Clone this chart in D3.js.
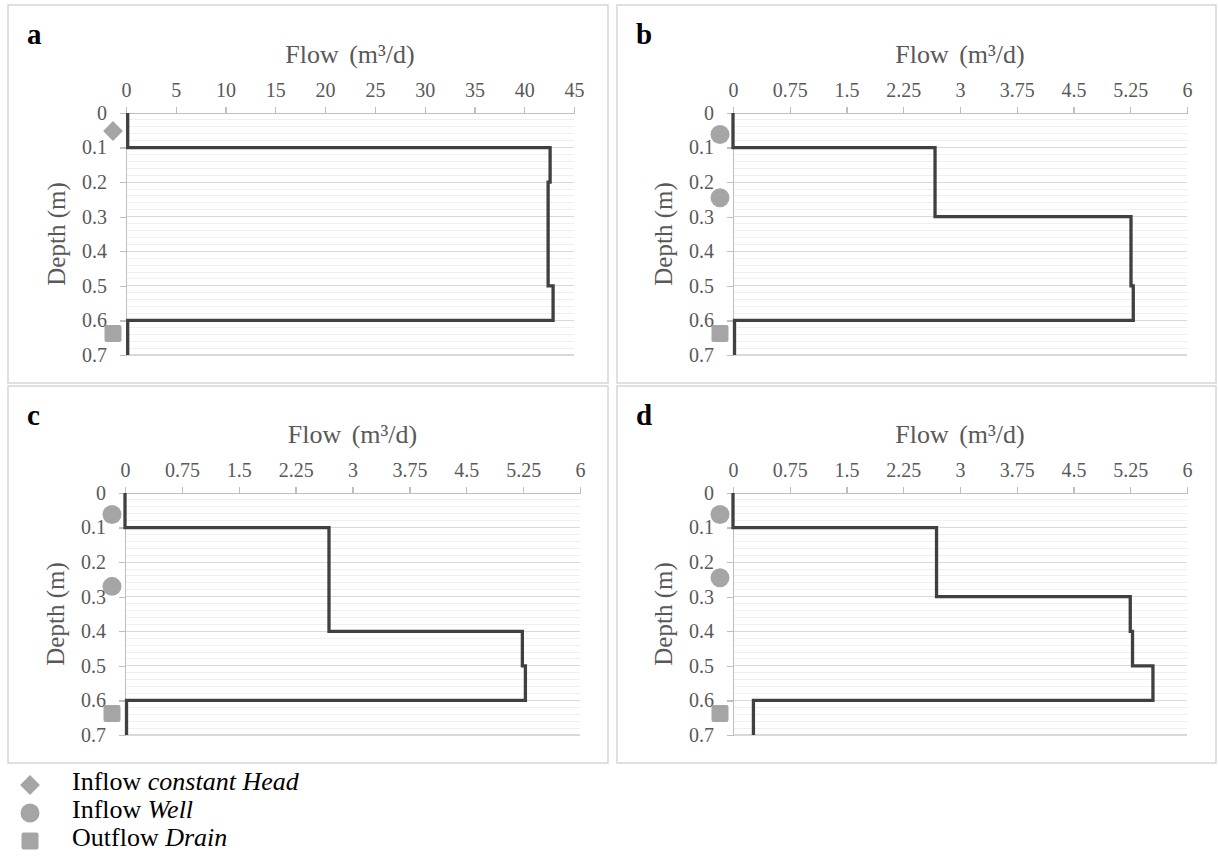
<!DOCTYPE html>
<html>
<head>
  <meta charset="utf-8">
  <title>Flow profiles</title>
  <script src="https://cdn.jsdelivr.net/npm/d3@7"></script>
  <style>
    body { margin: 0; background: #ffffff; }
    svg text { font-family: "Liberation Serif", "Times New Roman", serif; }
    .axis path, .axis line { stroke: #bfbfbf; stroke-width: 1.3; shape-rendering: crispEdges; }
    .axis text { fill: #595959; font-size: 20px; }
    .title { fill: #595959; font-size: 26px; text-anchor: middle; }
    .ytitle { font-size: 25px; }
    .panel-label { font-size: 29px; font-weight: bold; fill: #000; }
    .frame { fill: none; stroke: #d9d9d9; stroke-width: 1.6; }
    .major { stroke: #d9d9d9; stroke-width: 1.2; shape-rendering: crispEdges; }
    .minor { stroke: #efefef; stroke-width: 1; shape-rendering: crispEdges; }
    .profile { fill: none; stroke: #404040; stroke-width: 3.3; stroke-linejoin: miter; }
    .marker { fill: #a5a5a5; }
    .legend text { font-size: 26px; fill: #000; }
  </style>
</head>
<body>
<script>
  // Depth of layer boundaries (m) and axis ticks
  var depthBounds = [0, 0.1, 0.2, 0.3, 0.4, 0.5, 0.6, 0.7];
  var depthTicks = [0, 0.1, 0.2, 0.3, 0.4, 0.5, 0.6, 0.7];
  var flowTicksA = [0, 5, 10, 15, 20, 25, 30, 35, 40, 45];
  var flowTicksSmall = [0, 0.75, 1.5, 2.25, 3, 3.75, 4.5, 5.25, 6];

  // Flow (m3/d) in each layer, top to bottom
  var flowA = [0.17, 42.6, 42.4, 42.4, 42.4, 42.9, 0.17];
  var flowB = [0, 2.67, 2.67, 5.26, 5.26, 5.29, 0.02];
  var flowC = [0, 2.69, 2.69, 2.69, 5.24, 5.28, 0.02];
  var flowD = [0, 2.69, 2.69, 5.25, 5.28, 5.55, 0.27];

  // boundary conditions: type and depth (m)
  var markersA = [["diamond", 0.052], ["square", 0.638]];
  var markersB = [["circle", 0.062], ["circle", 0.245], ["square", 0.638]];
  var markersC = [["circle", 0.062], ["circle", 0.27], ["square", 0.638]];
  var markersD = [["circle", 0.062], ["circle", 0.245], ["square", 0.638]];

  var legendItems = [["diamond", "Inflow ", "constant Head"],
                     ["circle", "Inflow ", "Well"],
                     ["square", "Outflow ", "Drain"]];

  var svg = d3.select("body").append("svg")
      .attr("width", 1218)
      .attr("height", 856);

  function drawMarker(g, type, cx, cy) {
    if (type == "circle") {
      g.append("circle").attr("class", "marker")
        .attr("cx", cx).attr("cy", cy).attr("r", 9.5);
    } else if (type == "square") {
      g.append("rect").attr("class", "marker")
        .attr("x", cx - 8.5).attr("y", cy - 8.5)
        .attr("width", 17).attr("height", 17).attr("rx", 2);
    } else {
      g.append("rect").attr("class", "marker")
        .attr("x", -7).attr("y", -7).attr("width", 14).attr("height", 14)
        .attr("transform", "translate(" + cx + "," + cy + ") rotate(45)");
    }
  }

  function drawPanel(p) {
    var g = svg.append("g");

    g.append("rect").attr("class", "frame")
      .attr("x", p.box[0]).attr("y", p.box[1])
      .attr("width", p.box[2]).attr("height", p.box[3]);

    var x = d3.scaleLinear().domain([0, p.xmax]).range([p.left, p.right]);
    var y = d3.scaleLinear().domain([0, 0.7]).range([p.top, p.bottom]);

    // gridlines
    var majors = depthTicks.slice(1);
    var minors = y.ticks(35).filter(function(d) {
      return Math.abs(d * 10 - Math.round(d * 10)) > 1e-6;
    });
    g.selectAll(".minor").data(minors).enter().append("line")
      .attr("class", "minor")
      .attr("x1", p.left).attr("x2", p.right)
      .attr("y1", y).attr("y2", y);
    g.selectAll(".major").data(majors).enter().append("line")
      .attr("class", "major")
      .attr("x1", p.left).attr("x2", p.right)
      .attr("y1", y).attr("y2", y);

    // axes
    g.append("g").attr("class", "axis")
      .attr("transform", "translate(0," + p.top + ")")
      .call(d3.axisTop(x).tickValues(p.ticks).tickFormat(d3.format("")).tickSizeOuter(0).tickSize(6).tickPadding(10));
    g.append("g").attr("class", "axis")
      .attr("transform", "translate(" + p.left + ",0)")
      .call(d3.axisLeft(y).tickValues(depthTicks).tickFormat(d3.format("")).tickSizeOuter(0).tickSize(6).tickPadding(13));

    // titles
    g.append("text").attr("class", "title")
      .attr("x", (p.left + p.right) / 2).attr("y", p.top - 50)
      .style("word-spacing", "4px")
      .text("Flow (m³/d)");
    g.append("text").attr("class", "title ytitle")
      .attr("transform", "translate(" + (p.left - 61) + "," + (p.top + p.bottom) / 2 + ") rotate(-90)")
      .text("Depth (m)");
    g.append("text").attr("class", "panel-label")
      .attr("x", p.box[0] + 19).attr("y", p.box[1] + 39)
      .text(p.name);

    // step profile
    var pts = [];
    p.flow.forEach(function(f, i) {
      pts.push([f, depthBounds[i]]);
      pts.push([f, depthBounds[i + 1]]);
    });
    var line = d3.line()
      .x(function(d) { return x(d[0]); })
      .y(function(d) { return y(d[1]); });
    g.append("path").attr("class", "profile").attr("d", line(pts));

    // boundary markers, drawn just left of the depth axis
    p.markers.forEach(function(m) {
      drawMarker(g, m[0], x(0) - 13, y(m[1]));
    });
  }

  var panels = [
    {name: "a", box: [8, 5, 600, 378], left: 126, right: 574, top: 113, bottom: 355,
     xmax: 45, ticks: flowTicksA, flow: flowA, markers: markersA},
    {name: "b", box: [617, 5, 599, 378], left: 733, right: 1187, top: 113, bottom: 355,
     xmax: 6, ticks: flowTicksSmall, flow: flowB, markers: markersB},
    {name: "c", box: [8, 386, 600, 377], left: 125, right: 580, top: 493, bottom: 735,
     xmax: 6, ticks: flowTicksSmall, flow: flowC, markers: markersC},
    {name: "d", box: [617, 386, 599, 377], left: 733, right: 1187, top: 493, bottom: 735,
     xmax: 6, ticks: flowTicksSmall, flow: flowD, markers: markersD}
  ];
  panels.forEach(drawPanel);

  // legend below the panels
  var legend = svg.append("g").attr("class", "legend");
  legendItems.forEach(function(item, i) {
    var cy = 785 + i * 28;
    drawMarker(legend, item[0], 30, cy);
    var t = legend.append("text").attr("x", 72).attr("y", cy + 5);
    t.append("tspan").text(item[1]);
    t.append("tspan").style("font-style", "italic").text(item[2]);
  });
</script>
</body>
</html>
